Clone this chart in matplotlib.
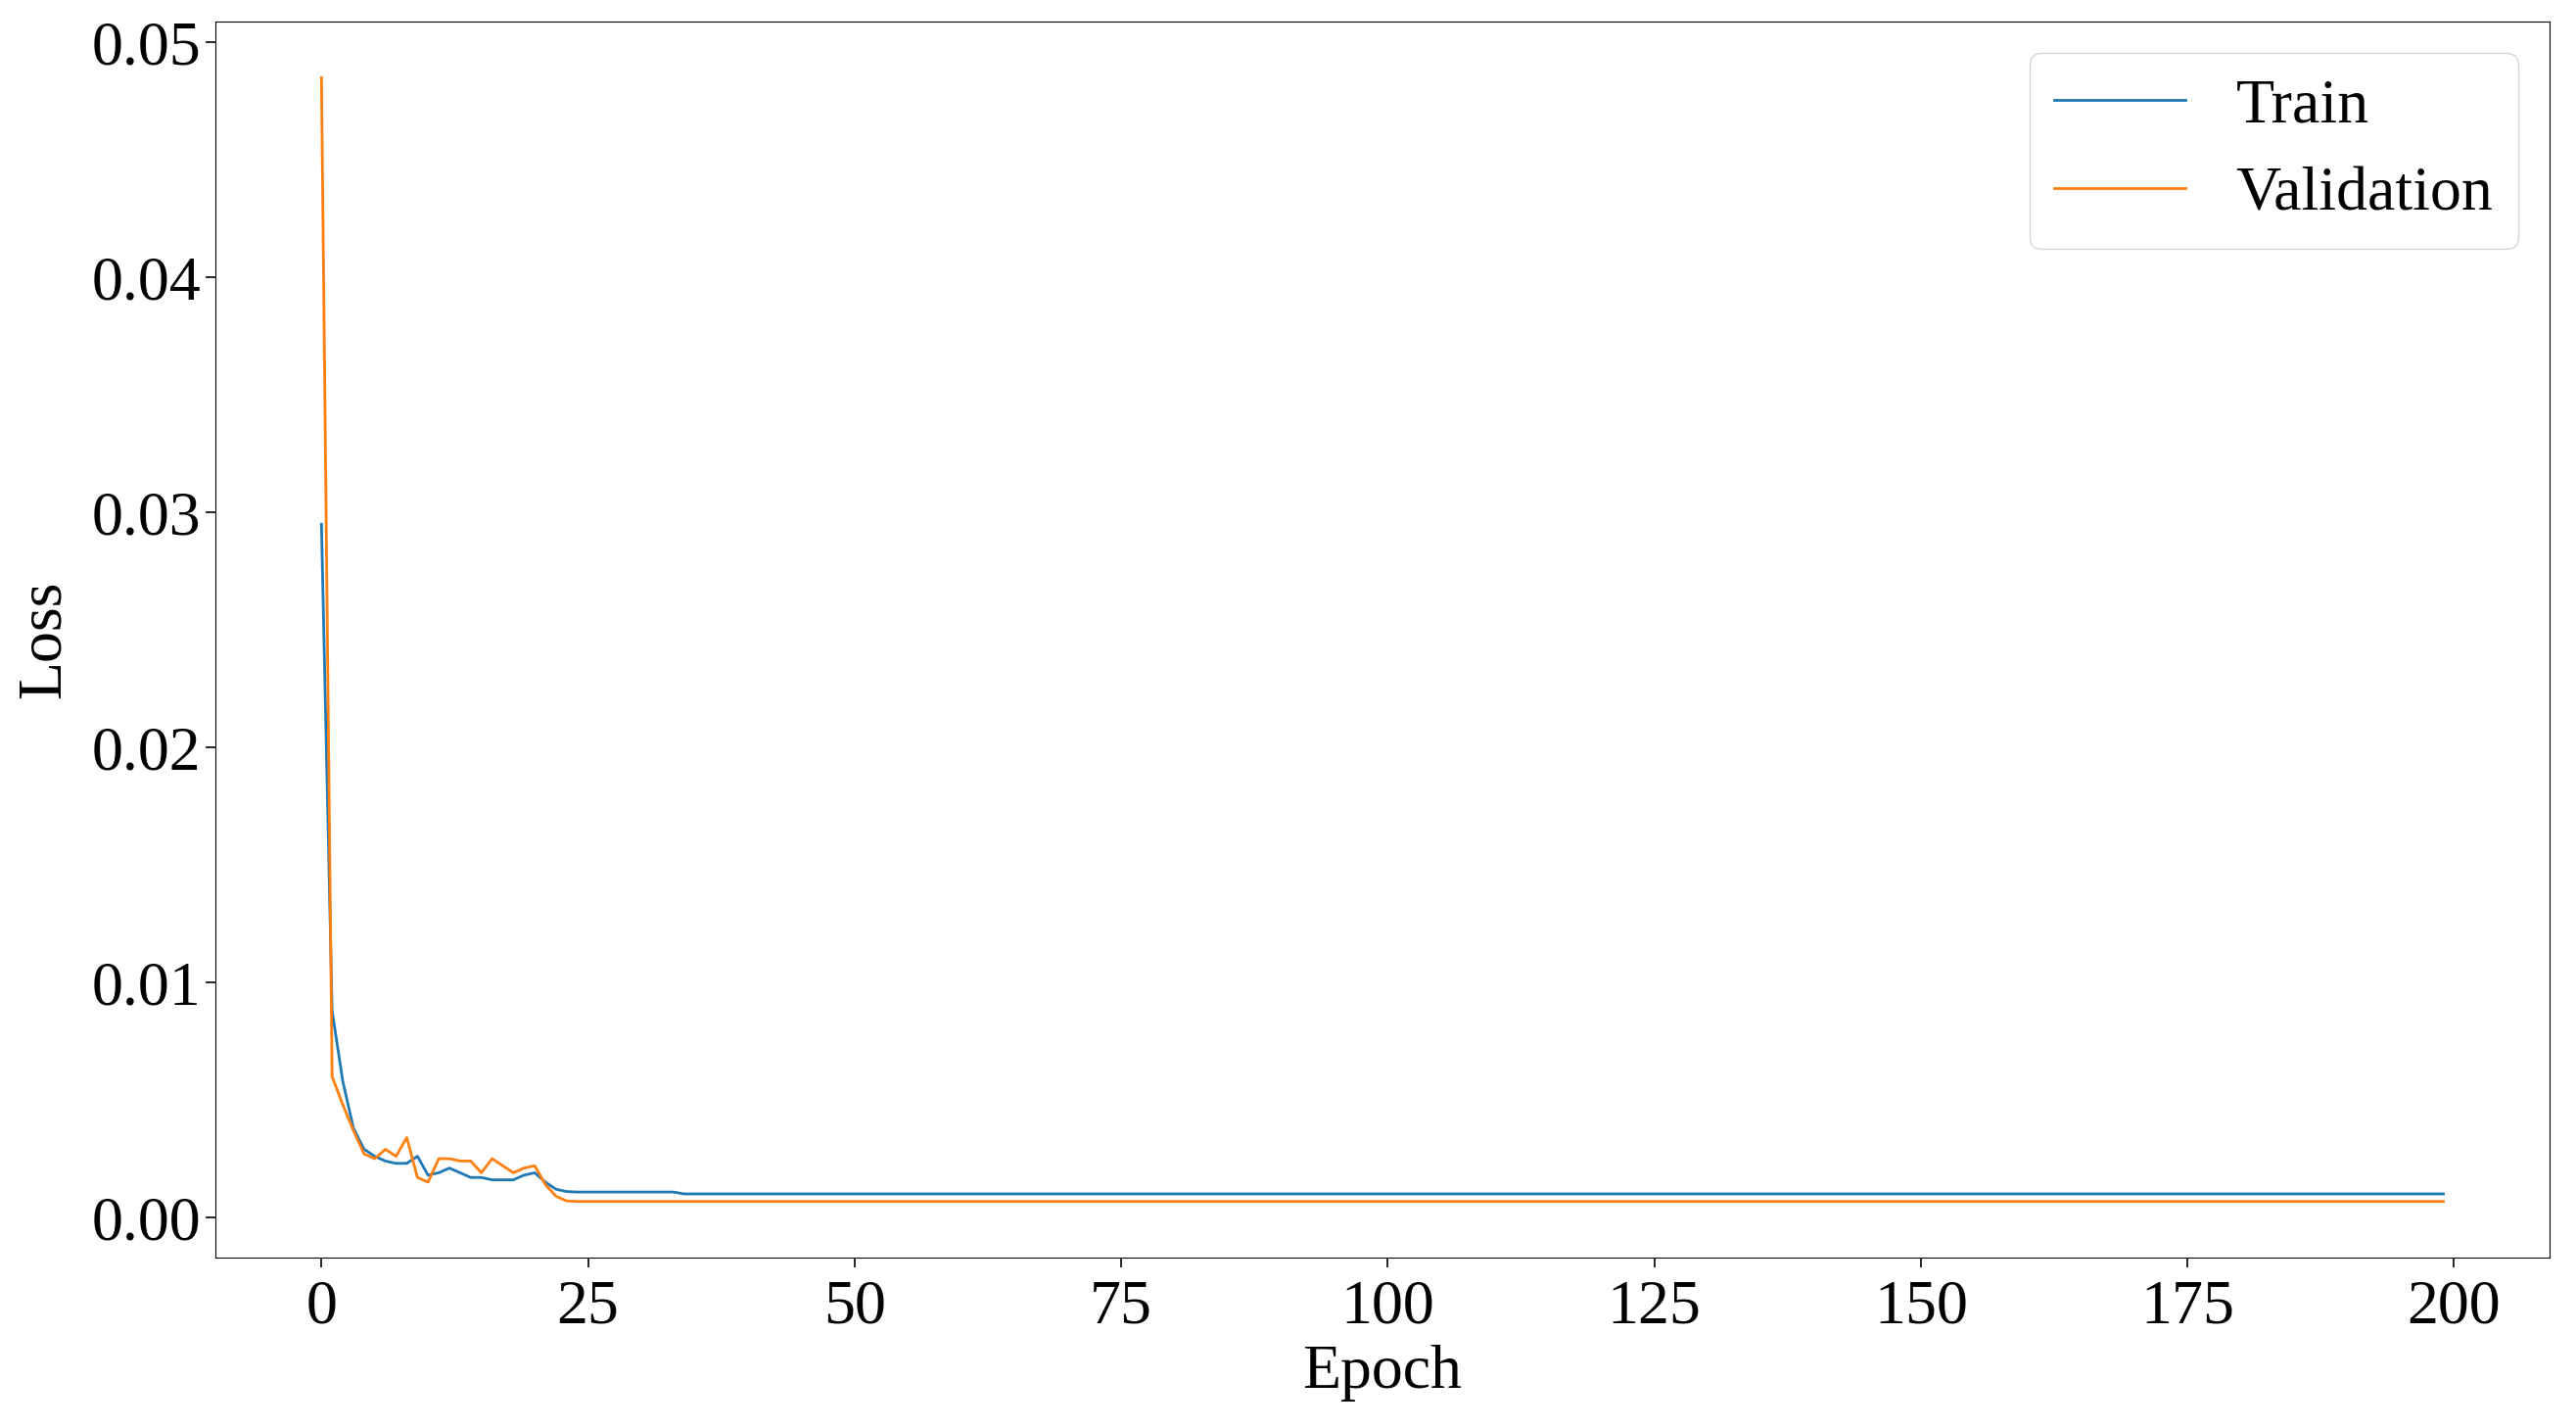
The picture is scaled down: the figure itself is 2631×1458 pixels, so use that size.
import numpy as np
import matplotlib.pyplot as plt

# ======================================
# Data
# ======================================

train_head = [
    0.0295, 0.0088, 0.0058, 0.0038, 0.0029, 0.0026, 0.0024, 0.0023,
    0.0023, 0.0026, 0.0018, 0.0019, 0.0021, 0.0019, 0.0017, 0.0017,
    0.0016, 0.0016, 0.0016, 0.0018, 0.0019, 0.0015, 0.0012, 0.0011,
]
train_mid = [0.00108] * 10
train_tail = [0.00100] * 166

val_head = [
    0.0485, 0.0060, 0.0048, 0.0037, 0.0027, 0.0025, 0.0029, 0.0026,
    0.0034, 0.0017, 0.0015, 0.0025, 0.0025, 0.0024, 0.0024, 0.0019,
    0.0025, 0.0022, 0.0019, 0.0021, 0.0022, 0.0014, 0.0009, 0.0007,
]
val_tail = [0.00068] * 176

train_loss = train_head + train_mid + train_tail
val_loss = val_head + val_tail
epochs = np.arange(len(train_loss))

# ======================================
# Plot
# ======================================

plt.rcParams["font.family"] = ["Liberation Serif", "DejaVu Serif"]
plt.rcParams["font.size"] = 46

fig = plt.figure(figsize=(26.31, 14.58), dpi=100)
ax = fig.add_axes([0.0836, 0.1193, 0.9061, 0.8657])

ax.plot(epochs, train_loss, color="#1f77b4", lw=2, label="Train")
ax.plot(epochs, val_loss, color="#ff7f0e", lw=2, label="Validation")

ax.set_xticks([0, 25, 50, 75, 100, 125, 150, 175, 200])
ax.set_yticks([0.0, 0.01, 0.02, 0.03, 0.04, 0.05])
ax.set_yticklabels(["0.00", "0.01", "0.02", "0.03", "0.04", "0.05"])

ax.tick_params(labelsize=46, length=7, width=1.2)
ax.tick_params(axis="x", pad=9)
ax.set_xlabel("Epoch", fontsize=46, labelpad=6)
ax.set_ylabel("Loss", fontsize=46, labelpad=14)

ax.legend(loc="upper right", fontsize=46, handlelength=2.1)

fig.savefig("out.png", dpi=100)
